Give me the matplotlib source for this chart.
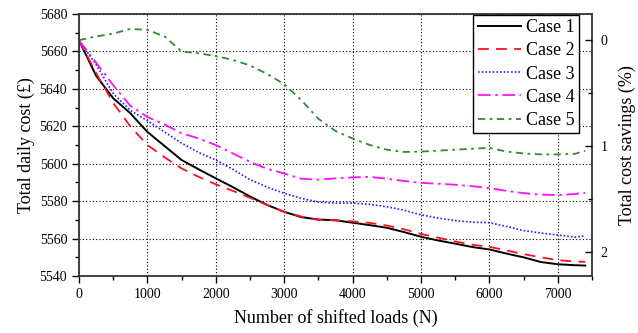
import matplotlib
matplotlib.use("Agg")
import matplotlib.pyplot as plt
from matplotlib.ticker import MultipleLocator

plt.rcParams['font.family'] = ['Liberation Serif', 'DejaVu Serif']
plt.rcParams['mathtext.fontset'] = 'stix'

n_loads = [0, 250, 500, 750, 1000, 1250, 1500, 1750, 2000, 2250, 2500, 2750,
           3000, 3250, 3500, 3750, 4000, 4250, 4500, 4750, 5000, 5250, 5500,
           5750, 6000, 6250, 6500, 6750, 7000, 7250, 7400]

case1 = [5666, 5647, 5635, 5627, 5617, 5609.5, 5602, 5597, 5592.2, 5587.5,
         5582.5, 5578, 5574.3, 5571.5, 5570.2, 5569.8, 5568.5, 5567.2, 5565.8,
         5563.5, 5561, 5559, 5557.3, 5555.5, 5554.2, 5552, 5550, 5547.5,
         5546.3, 5545.8, 5545.6]
case2 = [5666, 5648.5, 5632.5, 5620, 5610, 5603.5, 5597.5, 5593, 5589, 5585.5,
         5581.8, 5578, 5574.3, 5571.8, 5570, 5569.8, 5569.2, 5568.4, 5567,
         5565, 5562.5, 5560.5, 5558.5, 5556.7, 5555.6, 5553.7, 5551.7, 5550,
         5548.5, 5547.8, 5547.6]
case3 = [5666, 5653, 5637.5, 5628.5, 5623, 5617, 5611, 5606, 5602, 5597,
         5591.5, 5587.5, 5584.2, 5581.5, 5579.5, 5579, 5579, 5578.3, 5577,
         5575.2, 5572.7, 5571, 5569.6, 5568.8, 5568.5, 5566.5, 5564.3, 5563,
         5561.9, 5560.8, 5561.5]
case4 = [5666, 5654, 5642, 5631, 5625, 5621, 5616.3, 5613.5, 5610, 5605.5,
         5601, 5597.3, 5594.8, 5592, 5591.5, 5592.2, 5592.7, 5593, 5592,
         5590.8, 5589.8, 5589.3, 5588.8, 5588, 5587, 5585.5, 5584.3, 5583.5,
         5583.3, 5583.8, 5584.5]
case5 = [5666, 5668, 5669.5, 5672, 5671.5, 5668, 5660, 5659, 5657.5, 5655.5,
         5652.5, 5648, 5642.5, 5634, 5624, 5617.5, 5613.5, 5610, 5607.5,
         5606.3, 5606.5, 5607, 5607.5, 5608, 5608.5, 5606.5, 5605.5, 5605,
         5605, 5605.3, 5607]

labels = ['Case 1', 'Case 2', 'Case 3', 'Case 4', 'Case 5']
baseline_cost = 5666

fig = plt.figure(figsize=(6.38, 3.33), dpi=100)
ax = fig.add_axes([0.1238, 0.171, 0.8042, 0.787])

styles = [
    dict(color='black', linestyle='-', linewidth=1.4),
    dict(color='#ff1020', linestyle=(0, (6, 4)), linewidth=1.3),
    dict(color='#2020ff', linestyle=(0, (1, 1.2)), linewidth=1.2),
    dict(color='#ff10ff', linestyle=(0, (7, 2.5, 1.5, 2.5)), linewidth=1.3),
    dict(color='#2e8b2e', linestyle=(0, (4, 2.5, 1.5, 2.5)), linewidth=1.3),
]
for vals, lab, st in zip([case1, case2, case3, case4, case5], labels, styles):
    ax.plot(n_loads, vals, label=lab, **st)

ax.set_xlim(0, 7500)
ax.set_ylim(5540, 5680)
ax.xaxis.set_major_locator(MultipleLocator(1000))
ax.xaxis.set_minor_locator(MultipleLocator(500))
ax.yaxis.set_major_locator(MultipleLocator(20))
ax.yaxis.set_minor_locator(MultipleLocator(10))
ax.tick_params(axis='both', which='major', direction='out', length=5, width=1,
               labelsize=10, top=False, right=False)
ax.tick_params(axis='both', which='minor', direction='out', length=3, width=1,
               top=False, right=False)
ax.grid(True, which='major', color='black', linestyle=(0, (1, 2)), linewidth=0.8)
for sp in ax.spines.values():
    sp.set_linewidth(1.3)
    sp.set_color('#333333')

ax.set_xlabel('Number of shifted loads (N)', fontsize=13, labelpad=6)
ax.set_ylabel('Total daily cost (£)', fontsize=13, labelpad=3)

ax2 = ax.twinx()
lo, hi = ax.get_ylim()
ax2.set_ylim((baseline_cost - lo) / baseline_cost * 100,
             (baseline_cost - hi) / baseline_cost * 100)
ax2.yaxis.set_major_locator(MultipleLocator(1))
ax2.yaxis.set_minor_locator(MultipleLocator(0.5))
ax2.tick_params(axis='y', which='major', direction='in', length=5, width=1,
                labelsize=10, pad=6)
ax2.tick_params(axis='y', which='minor', direction='in', length=3, width=1)
ax2.set_ylabel('Total cost savings (%)', fontsize=13, labelpad=8)
for sp in ax2.spines.values():
    sp.set_visible(False)

leg = ax.legend(loc='upper right', bbox_to_anchor=(0.9747, 0.997),
                borderaxespad=0, fontsize=13, frameon=True, fancybox=False,
                framealpha=1, edgecolor='black', handlelength=2.4,
                handletextpad=0.25, labelspacing=0.34, borderpad=0.25)
leg.get_frame().set_linewidth(1.0)

fig.savefig('out.png', dpi=100)
